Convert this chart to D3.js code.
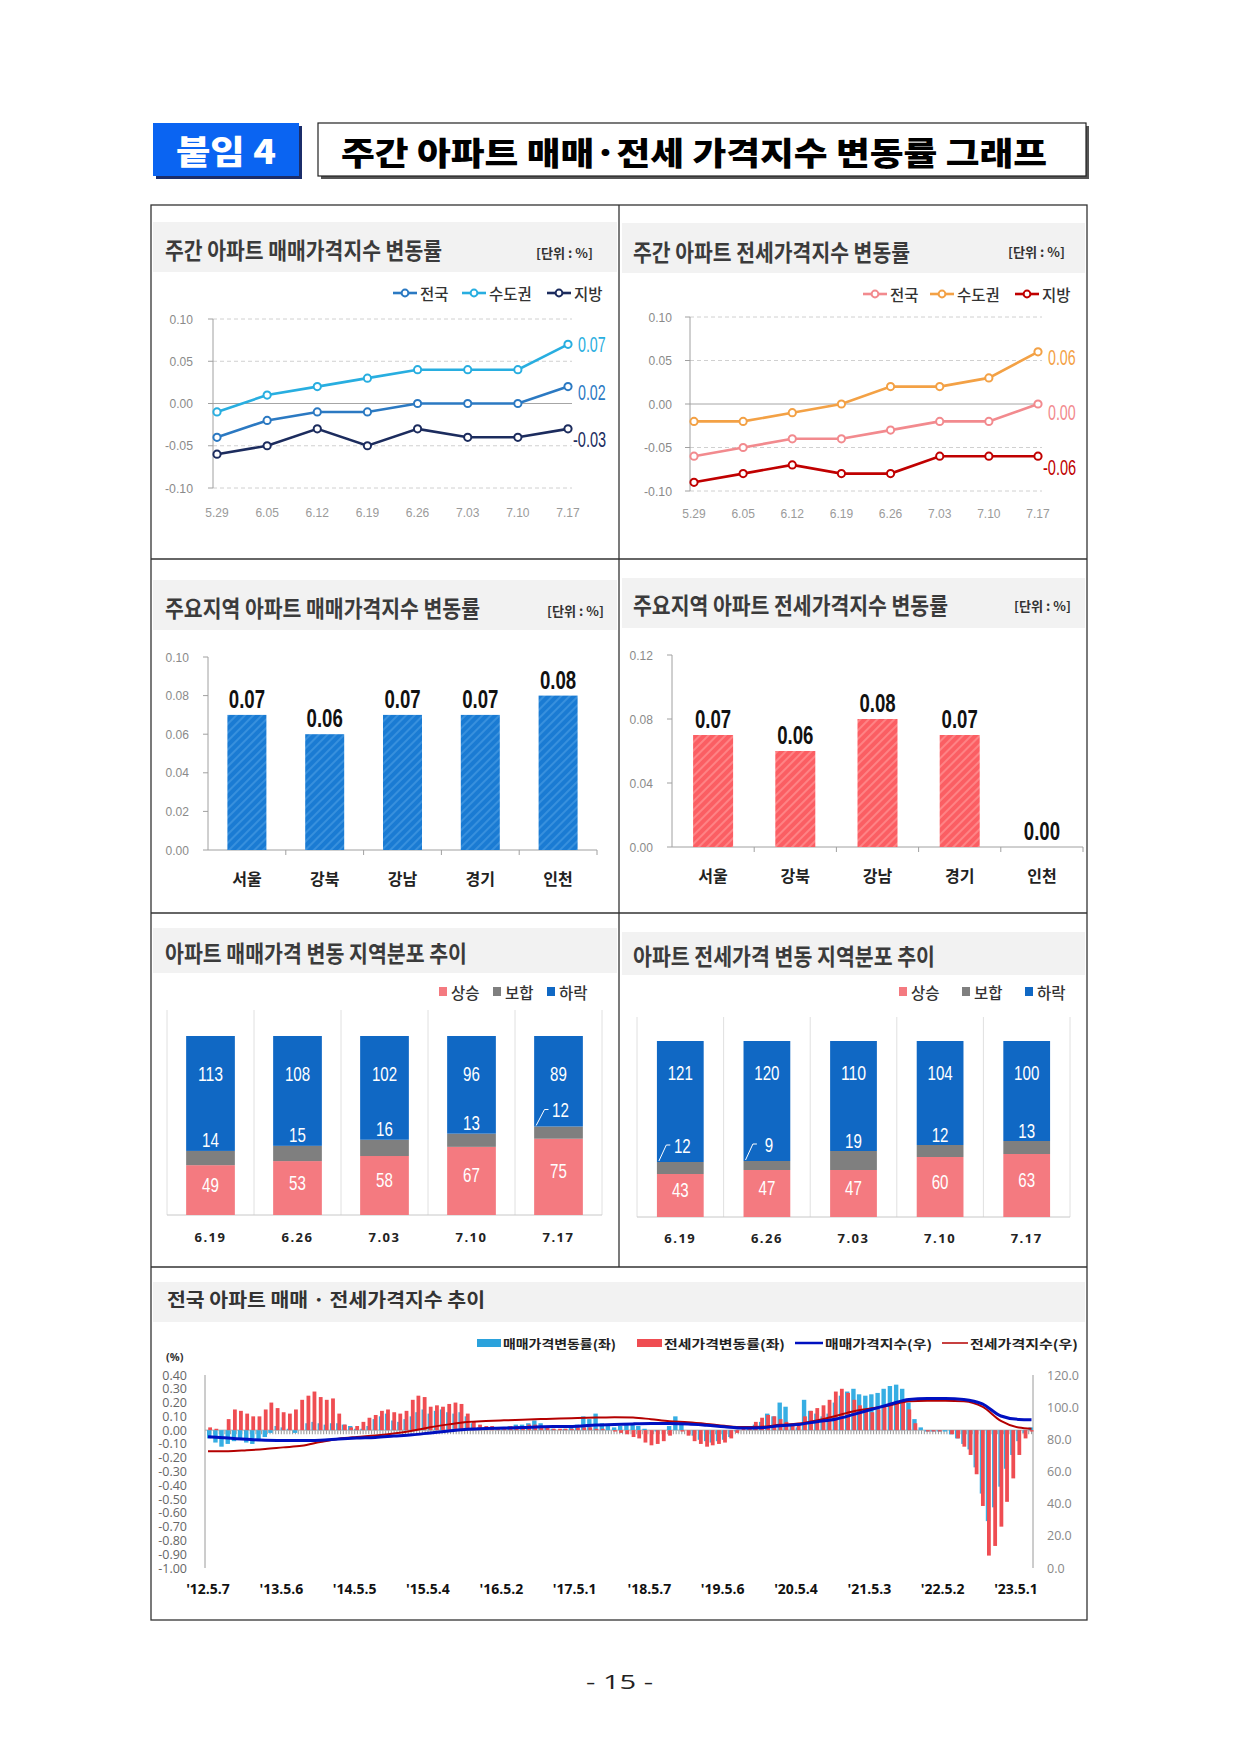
<!DOCTYPE html>
<html><head><meta charset="utf-8">
<script src="https://cdn.jsdelivr.net/npm/d3@7/dist/d3.min.js"></script>
<style>html,body{margin:0;padding:0;background:#fff}svg{display:block}</style>
</head><body>
<svg id="page" width="1240" height="1753" xmlns="http://www.w3.org/2000/svg"></svg>
<script>
// ================= DATA =================
const weekDates = ["5.29","6.05","6.12","6.19","6.26","7.03","7.10","7.17"];
const lineTicks = [0.10,0.05,0.00,-0.05,-0.10];
const seriesNames = ["전국","수도권","지방"];
const saleNational = [-0.04,-0.02,-0.01,-0.01,0.00,0.00,0.00,0.02];
const saleCapital  = [-0.01,0.01,0.02,0.03,0.04,0.04,0.04,0.07];
const saleProvince = [-0.06,-0.05,-0.03,-0.05,-0.03,-0.04,-0.04,-0.03];
const jeonseNational = [-0.06,-0.05,-0.04,-0.04,-0.03,-0.02,-0.02,0.00];
const jeonseCapital  = [-0.02,-0.02,-0.01,0.00,0.02,0.02,0.03,0.06];
const jeonseProvince = [-0.09,-0.08,-0.07,-0.08,-0.08,-0.06,-0.06,-0.06];

const regions = ["서울","강북","강남","경기","인천"];
const regionSale = [0.07,0.06,0.07,0.07,0.08];
const regionJeonse = [0.07,0.06,0.08,0.07,0.00];
const regionSaleTicks = [0.00,0.02,0.04,0.06,0.08,0.10];
const regionJeonseTicks = [0.00,0.04,0.08,0.12];

const distDates = ["6.19","6.26","7.03","7.10","7.17"];
const distNames = ["상승","보합","하락"];
const saleUp = [49,53,58,67,75];
const saleFlat = [14,15,16,13,12];
const saleDown = [113,108,102,96,89];
const jeonseUp = [43,47,47,60,63];
const jeonseFlat = [12,9,19,12,13];
const jeonseDown = [121,120,110,104,100];

// Weekly-rate trend, one reading per month from 2012-05 to 2023-07 (%)
const trendFirstMonth = "2012-05";
const saleChange = [
 -0.06,-0.09,-0.12,-0.10,-0.08,-0.07,-0.09,-0.10,
 -0.08,-0.05,-0.02,0.03,0.02,0.01,-0.02,0.00,0.05,0.06,0.05,0.04,
 0.05,0.05,0.04,0.03,0.01,0.01,0.03,0.08,0.10,0.12,0.07,0.06,
 0.08,0.10,0.13,0.15,0.12,0.14,0.15,0.13,0.12,0.13,0.10,0.05,
 0.02,0.01,0.00,0.01,0.02,0.03,0.04,0.04,0.05,0.07,0.05,0.02,
 0.01,0.00,0.01,0.02,0.04,0.10,0.08,0.12,0.05,0.03,0.02,0.03,
 0.04,0.04,0.03,0.01,0.00,-0.01,0.00,0.03,0.10,0.06,0.00,-0.04,
 -0.07,-0.08,-0.09,-0.08,-0.07,-0.05,-0.01,0.00,0.02,0.04,0.06,0.12,
 0.10,0.20,0.17,0.03,0.02,0.22,0.14,0.12,0.10,0.12,0.20,0.25,
 0.28,0.30,0.26,0.25,0.26,0.27,0.30,0.32,0.33,0.30,0.20,0.08,
 0.02,-0.01,-0.01,-0.01,-0.01,-0.03,-0.06,-0.10,-0.14,-0.27,-0.46,-0.66,
 -0.56,-0.41,-0.28,-0.18,-0.08,-0.02,0.02];
const jeonseChange = [
 0.02,0.01,0.00,0.08,0.15,0.14,0.12,0.10,
 0.10,0.15,0.20,0.16,0.13,0.12,0.15,0.22,0.25,0.28,0.24,0.22,
 0.23,0.12,0.04,0.02,0.03,0.06,0.09,0.11,0.14,0.15,0.13,0.12,
 0.14,0.22,0.25,0.24,0.17,0.18,0.17,0.19,0.20,0.19,0.12,0.06,
 0.04,0.03,0.03,0.02,0.02,0.03,0.03,0.03,0.04,0.04,0.03,0.02,
 0.01,0.01,0.01,0.01,0.02,0.02,0.02,0.01,0.01,0.00,-0.01,-0.02,
 -0.03,-0.05,-0.06,-0.09,-0.11,-0.10,-0.08,-0.04,0.00,-0.01,-0.04,-0.08,
 -0.10,-0.12,-0.11,-0.10,-0.09,-0.06,-0.02,0.01,0.03,0.06,0.09,0.11,
 0.10,0.08,0.06,0.04,0.05,0.10,0.14,0.16,0.18,0.22,0.28,0.30,
 0.27,0.22,0.18,0.14,0.13,0.15,0.18,0.20,0.19,0.21,0.15,0.05,
 0.00,-0.01,-0.01,-0.01,0.00,-0.03,-0.06,-0.12,-0.18,-0.32,-0.55,-0.91,
 -0.84,-0.70,-0.52,-0.35,-0.18,-0.06,-0.01];

const indexDates = ["2012-05-07","2012-08-15","2012-11-15",
 "2013-02-15","2013-05-15","2013-08-15","2013-11-15",
 "2014-02-15","2014-05-15","2014-08-15","2014-11-15",
 "2015-02-15","2015-05-15","2015-08-15","2015-11-15",
 "2016-02-15","2016-05-15","2016-08-15","2016-11-15",
 "2017-02-15","2017-05-15","2017-08-15","2017-11-15",
 "2018-02-15","2018-05-15","2018-08-15","2018-11-15",
 "2019-02-15","2019-05-15","2019-08-15","2019-11-15",
 "2020-02-15","2020-05-15","2020-08-15","2020-11-15",
 "2021-02-15","2021-05-15","2021-08-15","2021-11-15",
 "2022-02-15","2022-05-15","2022-08-15","2022-11-15",
 "2023-02-15","2023-05-15","2023-07-17"];
const saleIndex = [81.6,80.8,80.0, 79.4,79.3,79.2,79.5, 80.2,80.8,81.2,82.0,
 82.8,84.0,85.2,86.3, 86.8,87.0,87.3,87.8, 88.0,88.2,88.9,89.2, 89.6,89.8,89.8,89.6,
 88.8,87.8,87.0,87.2, 88.5,89.2,91.0,92.5, 95.5,98.6,101.8,104.8, 105.4,105.4,104.8,102.0,
 94.5,92.4,92.2];
const jeonseIndex = [72.6,72.6,73.2, 74.0,75.0,76.0,78.3, 80.4,81.5,82.4,83.6,
 85.3,87.5,89.3,90.8, 91.4,91.8,92.2,92.6, 93.0,93.2,93.5,93.8, 93.6,92.5,91.2,90.6,
 89.6,88.4,87.6,87.8, 89.0,89.8,91.8,94.5, 97.5,99.3,101.2,103.6, 104.0,104.0,103.6,100.3,
 91.5,87.3,86.6];

const trendTickDates = ["2012-05-07","2013-05-06","2014-05-05","2015-05-04","2016-05-02","2017-05-01",
 "2018-05-07","2019-05-06","2020-05-04","2021-05-03","2022-05-02","2023-05-01"];
const trendTickLabels = ["'12.5.7","'13.5.6","'14.5.5","'15.5.4","'16.5.2","'17.5.1",
 "'18.5.7","'19.5.6","'20.5.4","'21.5.3","'22.5.2","'23.5.1"];
const leftTicks = [0.40,0.30,0.20,0.10,0.00,-0.10,-0.20,-0.30,-0.40,-0.50,-0.60,-0.70,-0.80,-0.90,-1.00];
const rightTicks = [120,100,80,60,40,20,0];
const trendLegend = ["매매가격변동률(좌)","전세가격변동률(좌)","매매가격지수(우)","전세가격지수(우)"];

// ================= DRAW =================
const KR = "'Noto Sans CJK KR','Noto Sans',sans-serif";
const NUMF = "'Liberation Sans','Arimo',sans-serif";
const SANS = "'Open Sans','Noto Sans',sans-serif";
const svg = d3.select("#page");
svg.append("rect").attr("width",1240).attr("height",1753).attr("fill","#fff");

const defs = svg.append("defs");
function hatch(id, base, stripe){
  const p = defs.append("pattern").attr("id",id).attr("patternUnits","userSpaceOnUse")
    .attr("width",6).attr("height",6).attr("patternTransform","rotate(45)");
  p.append("rect").attr("width",6).attr("height",6).attr("fill",base);
  p.append("line").attr("x1",1).attr("x2",1).attr("y1",0).attr("y2",6).attr("stroke",stripe).attr("stroke-width",1.6);
}
hatch("hBlue","#1a7bd3","#3f95e0");
hatch("hRed","#fb5e63","#ff8c8e");

function txt(g,x,y,s,o={}){
  const t=g.append("text").attr("x",x).attr("y",y).text(s)
   .attr("font-family",o.ff||KR).attr("font-size",o.fs||14).attr("font-weight",o.fw||400)
   .attr("fill",o.fill||"#222").attr("text-anchor",o.anchor||"start")
   .attr("dominant-baseline",o.db||"central");
  if(o.tl) t.attr("textLength",o.tl).attr("lengthAdjust","spacingAndGlyphs");
  if(o.ls!==undefined) t.attr("letter-spacing",o.ls);
  return t;
}
function numW(s,dw){ let w=0; for(const ch of String(s)){ w += ch==="."?dw*0.55:(ch==="-"?dw*0.7:dw); } return w; }
function num(g,x,y,s,o){ return txt(g,x,y,s,{ff:NUMF,...o,tl:numW(s,o.dw)}); }
const fmt2 = v => v.toFixed(2);

// ---- header ----
svg.append("rect").attr("x",156).attr("y",126).attr("width",146).attr("height",53).attr("fill","#1b2d6a");
svg.append("rect").attr("x",153).attr("y",123).attr("width",146).attr("height",53).attr("fill","#0a64f2");
txt(svg,176,150,"붙임 4",{fs:33,fw:900,fill:"#fff",tl:100});
svg.append("rect").attr("x",321).attr("y",126).attr("width",768).attr("height",53).attr("fill","#555");
svg.append("rect").attr("x",318).attr("y",123).attr("width",768).attr("height",53).attr("fill","#fff").attr("stroke","#222").attr("stroke-width",1.2);
txt(svg,341,151,"주간 아파트 매매·전세 가격지수 변동률 그래프",{fs:32,fw:900,fill:"#000",tl:706});

// ---- frame ----
const fr = svg.append("g").attr("stroke","#333").attr("stroke-width",1.3).attr("fill","none");
fr.append("rect").attr("x",151).attr("y",205).attr("width",936).attr("height",1415);
[559,913,1267].forEach(y=>fr.append("line").attr("x1",151).attr("x2",1087).attr("y1",y).attr("y2",y));
fr.append("line").attr("x1",619).attr("x2",619).attr("y1",205).attr("y2",1267);

// ---- panel titles ----
function band(x,y,w,h){ svg.append("rect").attr("x",x).attr("y",y).attr("width",w).attr("height",h).attr("fill","#f2f2f2"); }
band(153,222,464,50); band(622,223,463,50);
band(153,580,464,50); band(622,578,463,50);
band(153,928,464,45); band(622,932,463,43);
band(153,1282,932,40);
const TT={fs:23,fw:700,fill:"#3b3b3b"};
txt(svg,165,249,"주간 아파트 매매가격지수 변동률",{...TT,tl:277});
txt(svg,633,251,"주간 아파트 전세가격지수 변동률",{...TT,tl:277});
txt(svg,165,607,"주요지역 아파트 매매가격지수 변동률",{...TT,tl:315});
txt(svg,633,604,"주요지역 아파트 전세가격지수 변동률",{...TT,tl:315});
txt(svg,165,952,"아파트 매매가격 변동 지역분포 추이",{...TT,tl:302});
txt(svg,633,955,"아파트 전세가격 변동 지역분포 추이",{...TT,tl:302});
txt(svg,167,1298,"전국 아파트 매매 · 전세가격지수 추이",{fs:19,fw:700,fill:"#333",tl:318});
const UT={fs:13,fw:700,fill:"#333",tl:57};
txt(svg,536,252,"[단위 : %]",UT);
txt(svg,1008,251,"[단위 : %]",UT);
txt(svg,547,610,"[단위 : %]",UT);
txt(svg,1014,605,"[단위 : %]",UT);

// ---- line charts ----
function lineChart(c){
  const g=svg.append("g");
  const y=d3.scaleLinear().domain([-0.1,0.1]).range([c.yBot,c.yTop]);
  const x=d3.scalePoint().domain(weekDates).range([c.xFirst,c.xLast]);
  lineTicks.forEach(t=>{
    g.append("line").attr("x1",c.axisX).attr("x2",c.gridRight).attr("y1",y(t)).attr("y2",y(t))
     .attr("stroke",t===0?"#a6a6a6":"#d0d0d0").attr("stroke-width",1).attr("stroke-dasharray",t===0?null:"4,3");
    g.append("line").attr("x1",c.axisX-5).attr("x2",c.axisX).attr("y1",y(t)).attr("y2",y(t)).attr("stroke","#a0a0a0");
    num(g,c.tickX,y(t),fmt2(t),{fs:13,fill:"#8a8a8a",anchor:"end",dw:6.6});
  });
  g.append("line").attr("x1",c.axisX).attr("x2",c.axisX).attr("y1",c.yTop).attr("y2",c.yBot).attr("stroke","#a0a0a0");
  weekDates.forEach(d=>num(g,x(d),c.xLabY,d,{fs:13,fill:"#9a9a9a",anchor:"middle",dw:6.6}));
  const ln=d3.line().x((v,i)=>x(weekDates[i])).y(v=>y(v));
  c.series.forEach(s=>{
    g.append("path").attr("d",ln(s.vals)).attr("fill","none").attr("stroke",s.color).attr("stroke-width",2.6);
    s.vals.forEach((v,i)=>g.append("circle").attr("cx",x(weekDates[i])).attr("cy",y(v)).attr("r",3.6)
      .attr("fill","#fff").attr("stroke",s.color).attr("stroke-width",2));
    const last=s.vals[s.vals.length-1];
    num(g,c.xLast+(last<0?5:10),y(last)+s.dy,fmt2(last),{fs:22,fw:500,fill:s.color,dw:7.8});
  });
  c.series.forEach((s,i)=>{
    const lx=c.legX[i];
    g.append("line").attr("x1",lx).attr("x2",lx+24).attr("y1",c.legY).attr("y2",c.legY).attr("stroke",s.color).attr("stroke-width",2.6);
    g.append("circle").attr("cx",lx+12).attr("cy",c.legY).attr("r",3.4).attr("fill","#fff").attr("stroke",s.color).attr("stroke-width",2);
    txt(g,lx+27,c.legY,seriesNames[i],{fs:15.5,fw:500,fill:"#333"});
  });
}
lineChart({axisX:213,yTop:319,yBot:488,xFirst:217,xLast:568,gridRight:572,tickX:193,xLabY:512,legX:[393,462,547],legY:293,
  series:[{vals:saleNational,color:"#2b79c2",dy:6},{vals:saleCapital,color:"#28aee0",dy:0},{vals:saleProvince,color:"#1c2c5e",dy:11}]});
lineChart({axisX:690,yTop:317,yBot:491,xFirst:694,xLast:1038,gridRight:1042,tickX:672,xLabY:513,legX:[863,930,1015],legY:294,
  series:[{vals:jeonseNational,color:"#f28a8e",dy:8},{vals:jeonseCapital,color:"#f3a145",dy:6},{vals:jeonseProvince,color:"#c00000",dy:11}]});

// ---- region bar charts ----
function barChart(c){
  const g=svg.append("g");
  const y=d3.scaleLinear().domain([0,c.max]).range([c.yBase,c.yTop]);
  const x=d3.scaleBand().domain(regions).range([c.axisX,c.xRight]);
  g.append("line").attr("x1",c.axisX).attr("x2",c.axisX).attr("y1",c.yTop).attr("y2",c.yBase).attr("stroke","#a0a0a0");
  c.ticks.forEach(t=>{
    g.append("line").attr("x1",c.axisX-5).attr("x2",c.axisX).attr("y1",y(t)).attr("y2",y(t)).attr("stroke","#a0a0a0");
    num(g,c.tickX,y(t),fmt2(t),{fs:13,fill:"#8a8a8a",anchor:"end",dw:6.6});
  });
  g.append("line").attr("x1",c.axisX).attr("x2",c.xRight).attr("y1",c.yBase).attr("y2",c.yBase).attr("stroke","#a0a0a0");
  regions.forEach(r=>g.append("line").attr("x1",x(r)+x.bandwidth()).attr("x2",x(r)+x.bandwidth()).attr("y1",c.yBase).attr("y2",c.yBase+5).attr("stroke","#a0a0a0"));
  const bw=c.barW;
  c.vals.forEach((v,i)=>{
    const cx=x(regions[i])+x.bandwidth()/2;
    if(v>0) g.append("rect").attr("x",cx-bw/2).attr("y",y(v)).attr("width",bw).attr("height",c.yBase-y(v)).attr("fill",c.fill);
    num(g,cx,y(v)-16,fmt2(v),{fs:26,fw:700,fill:"#111",anchor:"middle",dw:10.2});
    txt(g,cx,c.catY,regions[i],{fs:16,fw:700,fill:"#222",anchor:"middle"});
  });
}
barChart({axisX:208,xRight:597,yTop:657,yBase:850,max:0.10,ticks:regionSaleTicks,tickX:189,vals:regionSale,fill:"url(#hBlue)",barW:39,catY:878});
barChart({axisX:672,xRight:1083,yTop:655,yBase:847,max:0.12,ticks:regionJeonseTicks,tickX:653,vals:regionJeonse,fill:"url(#hRed)",barW:40,catY:875});

// ---- distribution stacked charts ----
const distColors=["#f47a80","#7f7f7f","#1068c4"];
function stackChart(c){
  const g=svg.append("g");
  const total=d3.max(c.up.map((u,i)=>u+c.flat[i]+c.down[i]));
  const y=d3.scaleLinear().domain([0,total]).range([c.base,c.top]);
  const x=d3.scaleBand().domain(distDates).range([c.x0,c.x1]);
  distDates.forEach(d=>g.append("line").attr("x1",x(d)).attr("x2",x(d)).attr("y1",c.gridTop).attr("y2",c.base).attr("stroke","#e0e0e0"));
  g.append("line").attr("x1",c.x1).attr("x2",c.x1).attr("y1",c.gridTop).attr("y2",c.base).attr("stroke","#e0e0e0");
  g.append("line").attr("x1",c.x0).attr("x2",c.x1).attr("y1",c.base).attr("y2",c.base).attr("stroke","#c8c8c8");
  const bw=x.bandwidth()*c.frac;
  const NUM={fs:21,fw:500,fill:"#fff",anchor:"middle",dw:8.4};
  distDates.forEach((d,i)=>{
    const cx=x(d)+x.bandwidth()/2, l=cx-bw/2;
    const u=c.up[i], f=c.flat[i], w=c.down[i];
    g.append("rect").attr("x",l).attr("width",bw).attr("y",y(u)).attr("height",c.base-y(u)).attr("fill",distColors[0]);
    g.append("rect").attr("x",l).attr("width",bw).attr("y",y(u+f)).attr("height",y(u)-y(u+f)).attr("fill",distColors[1]);
    g.append("rect").attr("x",l).attr("width",bw).attr("y",y(u+f+w)).attr("height",y(u+f)-y(u+f+w)).attr("fill",distColors[2]);
    num(g,cx,(y(u)+c.base)/2-6,u,NUM);
    const gt=y(u+f);
    if(c.leader[i]){
      num(g,cx+2,gt-17,f,NUM);
      g.append("path").attr("d",`M${l+2},${gt-1}L${cx-14},${gt-17}L${cx-10},${gt-17}`).attr("fill","none").attr("stroke","#fff").attr("stroke-width",1);
    } else num(g,cx,gt-11,f,NUM);
    num(g,cx,y(u+f+w)+c.downDy,w,NUM);
    txt(g,cx,c.labY,d,{ff:SANS,fs:13,fw:700,fill:"#222",anchor:"middle",ls:1.5});
  });
  distNames.forEach((n,i)=>{
    g.append("rect").attr("x",c.legX[i]).attr("y",c.legY-5).attr("width",8).attr("height",9).attr("fill",distColors[i]);
    txt(g,c.legX[i]+12,c.legY,n,{fs:15.5,fw:500,fill:"#333"});
  });
}
stackChart({x0:167,x1:602,base:1215,top:1036,gridTop:1010,frac:0.56,labY:1237,legX:[439,493,547],legY:992,
  up:saleUp,flat:saleFlat,down:saleDown,leader:[0,0,0,0,1],downDy:37});
stackChart({x0:637,x1:1070,base:1217,top:1041,gridTop:1017,frac:0.54,labY:1238,legX:[899,962,1025],legY:992,
  up:jeonseUp,flat:jeonseFlat,down:jeonseDown,leader:[1,1,0,0,0],downDy:31});

// ---- national trend chart ----
(function(){
  const g=svg.append("g");
  const parse=d3.timeParse("%Y-%m-%d");
  const xT=d3.scaleTime().domain([parse("2012-05-07"),parse("2023-05-01")]).range([208,1016]);
  const yL=d3.scaleLinear().domain([-1,0.4]).range([1568,1375]);
  const yR=d3.scaleLinear().domain([0,120]).range([1568,1375]);
  const m0=d3.timeParse("%Y-%m")(trendFirstMonth);
  const months=saleChange.map((v,i)=>d3.timeDay.offset(d3.timeMonth.offset(m0,i),14));
  g.append("line").attr("x1",205).attr("x2",205).attr("y1",1375).attr("y2",1568).attr("stroke","#9a9a9a");
  g.append("line").attr("x1",1033).attr("x2",1033).attr("y1",1375).attr("y2",1568).attr("stroke","#9a9a9a");
  leftTicks.forEach(t=>txt(g,187,yL(t),t.toFixed(2),{ff:SANS,fs:12.5,fill:"#666",anchor:"end"}));
  rightTicks.forEach(t=>txt(g,1047,yR(t),t.toFixed(1),{ff:SANS,fs:12.5,fill:"#888"}));
  txt(g,166,1356,"(%)",{ff:SANS,fs:11,fw:700,fill:"#333"});
  const comb=d3.timeMonday.every(2).range(parse("2012-05-07"),parse("2023-07-18"));
  g.append("g").selectAll("line").data(comb).join("line")
    .attr("x1",d=>xT(d)).attr("x2",d=>xT(d)).attr("y1",yL(0)).attr("y2",yL(0)+4).attr("stroke","#9c9c9c").attr("stroke-width",1.1);
  g.append("line").attr("x1",205).attr("x2",1033).attr("y1",yL(0)).attr("y2",yL(0)).attr("stroke","#a8a8a8");
  g.append("g").selectAll("rect").data(saleChange).join("rect")
    .attr("x",(v,i)=>xT(months[i])-2.6).attr("width",4.4)
    .attr("y",v=>Math.min(yL(v),yL(0))).attr("height",v=>Math.abs(yL(v)-yL(0)))
    .attr("fill","#36aee3");
  g.append("g").selectAll("rect").data(jeonseChange).join("rect")
    .attr("x",(v,i)=>xT(months[i])-1.4).attr("width",3.8)
    .attr("y",v=>Math.min(yL(v),yL(0))).attr("height",v=>Math.abs(yL(v)-yL(0)))
    .attr("fill","#ef4d52");
  const idxD=indexDates.map(parse);
  const line=d3.line().curve(d3.curveMonotoneX).x((v,i)=>xT(idxD[i])).y(v=>yR(v));
  g.append("path").attr("d",line(jeonseIndex)).attr("fill","none").attr("stroke","#b40000").attr("stroke-width",2);
  g.append("path").attr("d",line(saleIndex)).attr("fill","none").attr("stroke","#0010c0").attr("stroke-width",3);
  trendTickDates.forEach((d,i)=>txt(g,xT(parse(d)),1588,trendTickLabels[i],{ff:SANS,fs:14,fw:700,fill:"#111",anchor:"middle"}));
  const LG={fs:12.5,fw:700,fill:"#222"};
  g.append("rect").attr("x",477).attr("y",1339).attr("width",24).attr("height",8).attr("fill","#2ba2dc");
  txt(g,503,1343,trendLegend[0],{...LG,tl:113});
  g.append("rect").attr("x",637).attr("y",1339).attr("width",25).attr("height",8).attr("fill","#ef4d52");
  txt(g,664,1343,trendLegend[1],{...LG,tl:121});
  g.append("line").attr("x1",795).attr("x2",823).attr("y1",1343).attr("y2",1343).attr("stroke","#0010c0").attr("stroke-width",2.5);
  txt(g,825,1343,trendLegend[2],{...LG,tl:107});
  g.append("line").attr("x1",942).attr("x2",968).attr("y1",1343).attr("y2",1343).attr("stroke","#b40000").attr("stroke-width",1.5);
  txt(g,970,1343,trendLegend[3],{...LG,tl:108});
})();

txt(svg,586,1681,"- 15 -",{ff:SANS,fs:20,fill:"#222",tl:67});
</script></body></html>
